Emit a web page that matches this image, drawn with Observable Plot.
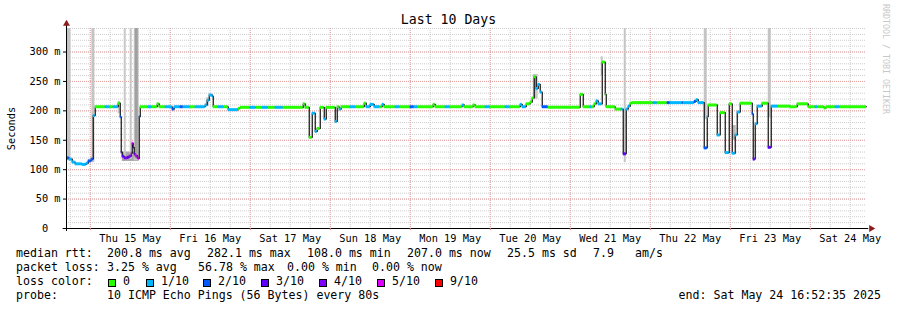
<!DOCTYPE html>
<html>
<head>
<meta charset="utf-8">
<script src="https://cdn.jsdelivr.net/npm/d3@7"></script>
<script src="https://cdn.jsdelivr.net/npm/@observablehq/plot@0.6"></script>
<style>
  html, body { margin: 0; padding: 0; background: #fff; }
  #wrap { position: relative; width: 897px; height: 310px; overflow: hidden; background: #fff;
          font-family: "DejaVu Sans Mono", monospace; font-size: 11.6px; color: #000; }
  #wrap svg { position: absolute; left: 0; top: 0; }
  .t { position: absolute; white-space: pre; line-height: 1; }
  .box { position: absolute; width: 6px; height: 6px; border: 1px solid #000; }
  #title { left: 0; width: 897px; text-align: center; font-size: 13.2px; top: 12.8px; }
  #mark { position: absolute; left: 882px; top: 4px; writing-mode: vertical-rl; font-size: 8.3px;
          color: #c8c8c8; white-space: pre; line-height: 1; }
</style>
</head>
<body>
<div id="wrap">
  <div class="t" id="title">Last 10 Days</div>
  <div id="mark">RRDTOOL / TOBI OETIKER</div>
</div>
<script>
// ---------------- data ----------------
const startTime = "2025-05-14T16:52:35Z";
const endTime = "2025-05-24T16:52:35Z";

// median rtt samples (step data): time (UTC, MM-DD HH:MM), median (ms), loss (tenths)
const sampleTimes = [
  "05-14 16:53","05-14 17:42","05-14 18:36","05-14 19:30","05-14 21:36","05-14 22:48","05-14 23:24",
  "05-15 00:18","05-15 00:54","05-15 01:30","05-15 04:30","05-15 06:00","05-15 06:54","05-15 08:24",
  "05-15 09:00","05-15 09:18","05-15 09:36","05-15 10:12","05-15 11:06","05-15 11:42","05-15 12:18",
  "05-15 12:36","05-15 12:54","05-15 13:12","05-15 13:30","05-15 14:06","05-15 14:24","05-15 14:42",
  "05-15 15:00","05-15 17:24","05-15 18:36","05-15 20:06","05-15 20:42","05-15 22:30",
  "05-16 00:36","05-16 01:12","05-16 03:00","05-16 03:54","05-16 06:00","05-16 07:30","05-16 10:30",
  "05-16 11:06","05-16 11:42","05-16 12:36","05-16 12:54","05-16 14:24","05-16 16:12","05-16 17:24",
  "05-16 20:24","05-16 21:00",
  "05-17 00:00","05-17 01:48","05-17 03:36","05-17 05:24","05-17 07:30","05-17 09:54","05-17 15:54",
  "05-17 16:30","05-17 17:42","05-17 18:36","05-17 19:30","05-17 20:06","05-17 21:00","05-17 22:12",
  "05-17 22:48",
  "05-18 01:30","05-18 02:06","05-18 02:42","05-18 03:18","05-18 06:00","05-18 07:48","05-18 10:12",
  "05-18 10:48","05-18 12:00","05-18 13:12","05-18 15:00","05-18 15:36","05-18 16:12","05-18 19:30",
  "05-18 21:00",
  "05-19 00:00","05-19 01:12","05-19 02:24","05-19 06:54","05-19 07:30","05-19 10:30","05-19 12:00",
  "05-19 15:36","05-19 16:12","05-19 18:54","05-19 19:30","05-19 22:30",
  "05-20 00:00","05-20 04:30","05-20 06:00","05-20 09:00","05-20 09:36","05-20 10:48","05-20 12:00",
  "05-20 12:36","05-20 13:12","05-20 13:48","05-20 14:24","05-20 15:00","05-20 15:36","05-20 17:24",
  "05-21 03:00","05-21 03:54","05-21 06:00","05-21 06:36","05-21 07:12","05-21 07:48","05-21 08:24",
  "05-21 09:36","05-21 10:30","05-21 10:48","05-21 13:30","05-21 15:18","05-21 15:54","05-21 16:48",
  "05-21 17:24","05-21 18:00","05-21 18:36",
  "05-22 00:54","05-22 02:06","05-22 05:06","05-22 06:00","05-22 09:36","05-22 09:54","05-22 13:12",
  "05-22 13:48","05-22 14:24","05-22 16:12","05-22 17:06","05-22 17:24","05-22 20:06","05-22 21:00",
  "05-22 22:30","05-22 23:42",
  "05-23 00:36","05-23 01:30","05-23 02:06","05-23 03:00","05-23 06:36","05-23 06:54","05-23 07:30",
  "05-23 08:06","05-23 09:36","05-23 11:24","05-23 12:18","05-23 14:24","05-23 18:00","05-23 20:06",
  "05-23 23:24",
  "05-24 01:30","05-24 02:24","05-24 04:12","05-24 04:48","05-24 07:30","05-24 09:00"
];
const medianMs = [
  120,118,113,110,109,111,115,
  118,192,207,207,207,207,213,
  190,130,123,120,121,123,128,
  145,138,127,124,121,119,190,
  207,207,207,212,207,207,
  203,207,207,207,207,207,210,
  218,227,225,207,207,207,202,
  204,206,
  206,206,206,206,206,206,212,
  206,155,196,165,170,206,186,
  206,
  182,207,203,207,207,207,213,
  207,211,207,207,211,207,207,
  207,
  207,207,207,211,207,207,207,
  210,207,210,207,207,
  207,207,207,211,207,212,215,
  222,258,238,245,232,207,206,
  228,207,207,207,212,217,212,
  283,228,207,203,203,127,203,
  208,213,214,
  214,214,214,214,214,214,216,
  219,214,137,190,210,159,197,
  129,212,
  128,159,198,213,195,118,178,
  208,213,138,208,208,207,212,
  207,
  207,207,205,207,207,207
];
const lossTenths = [
  2,1,1,1,1,1,2,
  2,1,0,1,0,1,0,
  2,3,3,4,3,4,5,
  5,4,3,5,4,5,2,
  0,1,0,0,0,1,
  2,1,2,1,0,1,1,
  1,1,1,0,1,0,1,
  0,0,
  1,0,1,0,1,0,0,
  0,0,1,1,0,0,1,
  0,
  1,0,1,0,1,0,0,
  1,1,1,0,1,0,1,
  0,
  2,1,0,0,0,1,0,
  1,0,0,0,1,
  0,1,0,1,1,0,0,
  0,0,1,1,1,2,0,
  0,0,1,0,0,1,1,
  0,0,0,0,1,3,1,
  1,0,0,
  1,0,2,1,2,1,2,
  1,1,2,1,0,1,0,
  1,0,
  1,1,1,0,2,3,1,
  1,0,3,1,0,0,0,
  0,
  1,0,0,0,1,0
];

// smoke (ping spread) bands
const smokeFrom = ["05-14 16:53","05-15 00:30","05-15 08:24","05-15 09:36","05-15 10:12","05-15 12:00",
  "05-15 13:12","05-15 13:30","05-16 10:48","05-20 12:54","05-21 09:18","05-21 16:12","05-22 16:12",
  "05-23 00:54","05-23 11:24"];
const smokeTo = ["05-14 18:12","05-15 01:24","05-15 09:00","05-15 14:42","05-15 10:48","05-15 12:36",
  "05-15 14:42","05-15 14:24","05-16 11:42","05-20 14:24","05-21 09:54","05-21 16:48","05-22 17:06",
  "05-23 01:48","05-23 12:18"];
const smokeLow = [115,112,195,114,116,118,115,118,207,220,260,112,186,150,188];
const smokeHigh = [340,340,216,130,340,340,340,340,222,262,292,340,340,175,340];
const smokeShade = ["#c4c4c4","#c4c4c4","#c8c8c8","#a8a8a8","#c8c8c8","#c8c8c8","#c8c8c8","#a0a0a0",
  "#c8c8c8","#c8c8c8","#c8c8c8","#c4c4c4","#c4c4c4","#b8b8b8","#c4c4c4"];

const yTicks = [0, 50, 100, 150, 200, 250, 300];
const lossLabels = ["0", "1/10", "2/10", "3/10", "4/10", "5/10", "9/10"];
const lossLevels = [0, 1, 2, 3, 4, 5, 9];
const lossColors = ["#26ff00", "#00b8ff", "#0059ff", "#5e00ff", "#7e00ff", "#dd00ff", "#ff0000"];

const statsLine1 = [["median rtt:", 16], ["200.8 ms avg", 107], ["282.1 ms max", 207], ["108.0 ms min", 307],
  ["207.0 ms now", 407], ["25.5 ms sd", 507], ["7.9", 593], ["am/s", 635]];
const statsLine2 = [["packet loss:", 16], ["3.25 % avg", 107], ["56.78 % max", 198], ["0.00 % min", 287],
  ["0.00 % now", 372]];
const probeText = "10 ICMP Echo Pings (56 Bytes) every 80s";
const endText = "end: Sat May 24 16:52:35 2025";

// ---------------- build ----------------
const start = new Date(startTime), end = new Date(endTime);
const parse = s => new Date(`2025-${s.replace(" ", "T")}:00Z`);
const colorOf = l => lossColors[lossLevels.indexOf(l)];

const samples = sampleTimes.map((s, i) => ({t: parse(s), ms: medianMs[i], loss: lossTenths[i]}));
samples.forEach((d, i) => { d.t2 = i + 1 < samples.length ? samples[i + 1].t : end; d.color = colorOf(d.loss); });
const lineData = [...samples, {t: end, ms: medianMs[medianMs.length - 1]}];
const smoke = smokeFrom.map((s, i) => ({a: parse(s), b: parse(smokeTo[i]), lo: smokeLow[i], hi: smokeHigh[i], c: smokeShade[i]}));

const sixHours = d3.utcHour.every(6).range(start, end);
const midnights = d3.utcDay.range(start, end);
const noons = midnights.map(d => d3.utcHour.offset(d, 12)).filter(d => d < end);
const yMinor = d3.range(0, 341, 10);
const yMajor = d3.range(0, 341, 50);

const minorGrid = {stroke: "#cdcdcd", strokeOpacity: 1, strokeDasharray: "1,1"};
const majorGrid = {stroke: "#e9a0a0", strokeOpacity: 1, strokeDasharray: "1,1"};
const arrowRed = "#8e1c1c";
const tickFont = 10.3;

const chart = Plot.plot({
  width: 897,
  height: 250,
  marginLeft: 66,
  marginRight: 31,
  marginTop: 28,
  marginBottom: 22,
  x: {type: "utc", domain: [start, end]},
  y: {domain: [0, 340]},
  color: {type: "identity"},
  style: {fontFamily: "DejaVu Sans Mono, monospace", fontSize: "11.6px", background: "transparent", overflow: "visible", color: "#000"},
  marks: [
    Plot.gridY(yMinor, minorGrid),
    Plot.gridX(sixHours, minorGrid),
    Plot.gridY(yMajor, majorGrid),
    Plot.gridX(midnights, majorGrid),
    Plot.rect(smoke, {x1: "a", x2: "b", y1: "lo", y2: "hi", fill: "c"}),
    Plot.line(lineData, {x: "t", y: "ms", curve: "step-after", stroke: "#111", strokeWidth: 1.2}),
    Plot.ruleY(samples, {x1: "t", x2: "t2", y: "ms", stroke: "color", strokeWidth: 3}),
    Plot.ruleY([{v: 0, a: d3.utcHour.offset(start, -1), b: d3.utcMinute.offset(end, 40)}], {y: "v", x1: "a", x2: "b", stroke: "#000"}),
    Plot.ruleX([{t: start, a: -5, b: 346}], {x: "t", y1: "a", y2: "b", stroke: "#000"}),
    Plot.dot([{t: d3.utcMinute.offset(end, 85), v: 0}], {x: "t", y: "v", symbol: "triangle", r: 2.6, fill: arrowRed, stroke: null, rotate: 90}),
    Plot.dot([{t: start, v: 348}], {x: "t", y: "v", symbol: "triangle", r: 2.6, fill: arrowRed, stroke: null}),
    Plot.axisY(yTicks, {
      tickFormat: d => d === 0 ? "0\u00a0\u00a0" : `${d} m`,
      tickSize: 3, tickPadding: 3, fontSize: tickFont, stroke: "#000",
      label: "Seconds", labelAnchor: "center", labelOffset: 59, labelArrow: "none"
    }),
    Plot.axisX(noons, {tickFormat: d3.utcFormat("%a %d %b"), tickSize: 0, tickPadding: 6.5, fontSize: tickFont, label: null}),
    Plot.axisX(midnights, {tickSize: 2, tickFormat: () => "", stroke: "#e07a7a", label: null})
  ]
});
const wrap = document.getElementById("wrap");
wrap.insertBefore(chart, wrap.firstChild);

// ---------------- legend text ----------------
function addText(txt, left, top) {
  const el = document.createElement("div");
  el.className = "t";
  el.textContent = txt;
  el.style.left = left + "px";
  el.style.top = top + "px";
  wrap.appendChild(el);
  return el;
}
const tops = [248.2, 262.2, 276.2, 290.2];
statsLine1.forEach(([s, x]) => addText(s, x, tops[0]));
statsLine2.forEach(([s, x]) => addText(s, x, tops[1]));
addText("loss color:", 16, tops[2]);
const boxX = [108, 146, 203, 261, 319, 377, 435];
lossLabels.forEach((lab, i) => {
  const b = document.createElement("div");
  b.className = "box";
  b.style.left = boxX[i] + "px";
  b.style.top = "279px";
  b.style.background = lossColors[i];
  wrap.appendChild(b);
  addText(lab, boxX[i] + 15, tops[2]);
});
addText("probe:", 16, tops[3]);
addText(probeText, 107, tops[3]);
const e = addText(endText, 0, tops[3]);
e.style.left = "auto";
e.style.right = "16px";
</script>
</body>
</html>
